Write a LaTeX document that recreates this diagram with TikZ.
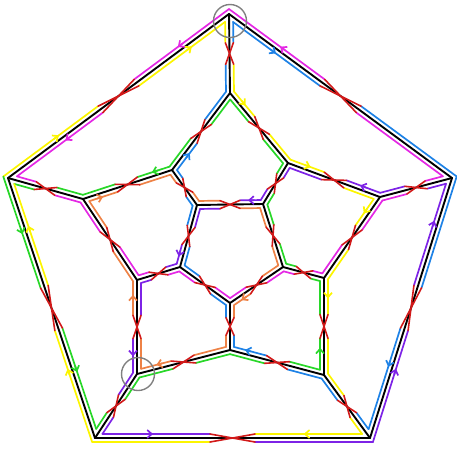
\documentclass[tikz,border=0pt]{standalone}
\usetikzlibrary{arrows.meta}
\definecolor{cM}{RGB}{228,40,228}
\definecolor{cY}{RGB}{252,245,0}
\definecolor{cB}{RGB}{30,130,230}
\definecolor{cG}{RGB}{40,215,40}
\definecolor{cP}{RGB}{125,35,230}
\definecolor{cO}{RGB}{238,130,70}
\definecolor{cR}{RGB}{210,25,25}
\tikzset{
 blk/.style={black,line width=1.9pt,line cap=round},
 qstrand/.style={line width=1.7pt,line cap=round,line join=round},
 xr/.style={cR,line width=1.6pt,line cap=round},
 mag/.style={qstrand,cM}, yel/.style={qstrand,cY}, blu/.style={qstrand,cB},
 grn/.style={qstrand,cG}, pur/.style={qstrand,cP}, org/.style={qstrand,cO},
 qtip/.style={-{Straight Barb[length=4.5pt,width=8pt]}},
 grayring/.style={circle,draw=gray,line width=1.4pt,inner sep=0pt,minimum size=33pt}
}
\newcommand\QD{4}
\newcommand\Qgxy[3]{\pgfpointanchor{#1}{center}\pgfgetlastxy{#2}{#3}}
\newcommand\Qsetup[3]{%
 \Qgxy{#1}\Qvx\Qvy\Qgxy{#2}\Qax\Qay\Qgxy{#3}\Qbx\Qby
 \pgfmathsetmacro\Qla{veclen((\Qax)-(\Qvx),(\Qay)-(\Qvy))}%
 \pgfmathsetmacro\Qlb{veclen((\Qbx)-(\Qvx),(\Qby)-(\Qvy))}%
 \pgfmathsetmacro\Quax{((\Qax)-(\Qvx))/\Qla}%
 \pgfmathsetmacro\Quay{((\Qay)-(\Qvy))/\Qla}%
 \pgfmathsetmacro\Qubx{((\Qbx)-(\Qvx))/\Qlb}%
 \pgfmathsetmacro\Quby{((\Qby)-(\Qvy))/\Qlb}%
 \pgfmathsetmacro\Qcs{(\Quax)*(\Qubx)+(\Quay)*(\Quby)}%
 \pgfmathsetmacro\Qsn{abs((\Quax)*(\Quby)-(\Quay)*(\Qubx))}%
}
% corner: v a b sign styleA styleB
\newcommand\Qcrn[6]{%
 \Qsetup{#1}{#2}{#3}%
 \pgfmathsetmacro\Qf{(#4)*\QD/\Qsn}%
 \pgfmathsetmacro\Qcx{(\Qvx)+(\Qf)*((\Quax)+(\Qubx))}%
 \pgfmathsetmacro\Qcy{(\Qvy)+(\Qf)*((\Quay)+(\Quby))}%
 \pgfmathsetmacro\Qnax{(#4)*((\Qubx)-(\Qcs)*(\Quax))/\Qsn}%
 \pgfmathsetmacro\Qnay{(#4)*((\Quby)-(\Qcs)*(\Quay))/\Qsn}%
 \pgfmathsetmacro\Qnbx{(#4)*((\Quax)-(\Qcs)*(\Qubx))/\Qsn}%
 \pgfmathsetmacro\Qnby{(#4)*((\Quay)-(\Qcs)*(\Quby))/\Qsn}%
 \pgfmathsetmacro\Qsa{\Qla/2-(0.06*\Qla+6)}%
 \pgfmathsetmacro\Qsb{\Qlb/2-(0.06*\Qlb+6)}%
 \pgfmathsetmacro\Qpax{(\Qvx)+(\Qsa)*(\Quax)+\QD*(\Qnax)}%
 \pgfmathsetmacro\Qpay{(\Qvy)+(\Qsa)*(\Quay)+\QD*(\Qnay)}%
 \pgfmathsetmacro\Qpbx{(\Qvx)+(\Qsb)*(\Qubx)+\QD*(\Qnbx)}%
 \pgfmathsetmacro\Qpby{(\Qvy)+(\Qsb)*(\Quby)+\QD*(\Qnby)}%
 \draw[#5] (\Qpax pt,\Qpay pt) -- (\Qcx pt,\Qcy pt);
 \draw[#6] (\Qcx pt,\Qcy pt) -- (\Qpbx pt,\Qpby pt);
}
% crossing at the middle of edge u w
\newcommand\Qx[2]{%
 \Qgxy{#1}\Qvx\Qvy\Qgxy{#2}\Qax\Qay
 \pgfmathsetmacro\Qla{veclen((\Qax)-(\Qvx),(\Qay)-(\Qvy))}%
 \pgfmathsetmacro\Qux{((\Qax)-(\Qvx))/\Qla}%
 \pgfmathsetmacro\Quy{((\Qay)-(\Qvy))/\Qla}%
 \pgfmathsetmacro\Qh{0.06*\Qla+6}%
 \pgfmathsetmacro\Qs{\Qla/2-\Qh}%
 \pgfmathsetmacro\Qt{\Qla/2+\Qh}%
 \pgfmathsetmacro\QPx{(\Qvx)+(\Qs)*(\Qux)-\QD*(\Quy)}%
 \pgfmathsetmacro\QPy{(\Qvy)+(\Qs)*(\Quy)+\QD*(\Qux)}%
 \pgfmathsetmacro\QQx{(\Qvx)+(\Qt)*(\Qux)+\QD*(\Quy)}%
 \pgfmathsetmacro\QQy{(\Qvy)+(\Qt)*(\Quy)-\QD*(\Qux)}%
 \pgfmathsetmacro\QRx{(\Qvx)+(\Qs)*(\Qux)+\QD*(\Quy)}%
 \pgfmathsetmacro\QRy{(\Qvy)+(\Qs)*(\Quy)-\QD*(\Qux)}%
 \pgfmathsetmacro\QSx{(\Qvx)+(\Qt)*(\Qux)-\QD*(\Quy)}%
 \pgfmathsetmacro\QSy{(\Qvy)+(\Qt)*(\Quy)+\QD*(\Qux)}%
 \draw[xr] (\QPx pt,\QPy pt) -- (\QQx pt,\QQy pt) (\QRx pt,\QRy pt) -- (\QSx pt,\QSy pt);
}
% arrow: v a b sign style frac dir
\newcommand\Qar[7]{%
 \Qsetup{#1}{#2}{#3}%
 \pgfmathsetmacro\Qnax{(#4)*((\Qubx)-(\Qcs)*(\Quax))/\Qsn}%
 \pgfmathsetmacro\Qnay{(#4)*((\Quby)-(\Qcs)*(\Quay))/\Qsn}%
 \pgfmathsetmacro\Qt{(#6)*\Qla}%
 \pgfmathsetmacro\Qmx{(\Qvx)+(\Qt)*(\Quax)+\QD*(\Qnax)}%
 \pgfmathsetmacro\Qmy{(\Qvy)+(\Qt)*(\Quay)+\QD*(\Qnay)}%
 \pgfmathsetmacro\Qex{(\Qmx)+(#7)*3*(\Quax)}%
 \pgfmathsetmacro\Qey{(\Qmy)+(#7)*3*(\Quay)}%
 \pgfmathsetmacro\Qfx{(\Qmx)-(#7)*3*(\Quax)}%
 \pgfmathsetmacro\Qfy{(\Qmy)-(#7)*3*(\Quay)}%
 \draw[#5,qtip] (\Qfx pt,\Qfy pt) -- (\Qex pt,\Qey pt);
}
\begin{document}
\begin{tikzpicture}[x=1pt,y=-1pt]
\useasboundingbox (0,0) rectangle (457,448);
\coordinate (T) at (229,14);
\coordinate (R) at (452,178);
\coordinate (BR) at (370,438);
\coordinate (BL) at (95,438);
\coordinate (L) at (8,178);
\coordinate (A0) at (230,93);
\coordinate (A1) at (380,197);
\coordinate (A2) at (324,375);
\coordinate (A3) at (137,374);
\coordinate (A4) at (83,199);
\coordinate (B01) at (288,163);
\coordinate (B12) at (324,278);
\coordinate (B23) at (230,350);
\coordinate (B34) at (137,280);
\coordinate (B40) at (172,170);
\coordinate (I0) at (197,205);
\coordinate (I1) at (263,204);
\coordinate (I2) at (283,267);
\coordinate (I3) at (230,303);
\coordinate (I4) at (180,267);
% black edges
\foreach \a/\b in {T/R,R/BR,BR/BL,BL/L,L/T,T/A0,R/A1,BR/A2,BL/A3,L/A4,
 A0/B01,B01/A1,A1/B12,B12/A2,A2/B23,B23/A3,A3/B34,B34/A4,A4/B40,B40/A0,
 B01/I1,B12/I2,B23/I3,B34/I4,B40/I0,I0/I1,I1/I2,I2/I3,I3/I4,I4/I0}
 {\draw[blk] (\a) -- (\b);}
% coloured strands, one piece per face corner
\Qcrn{T}{L}{R}{-1}{mag}{mag}
\Qcrn{T}{L}{A0}{1}{yel}{yel}
\Qcrn{T}{R}{A0}{1}{blu}{blu}
\Qcrn{R}{T}{BR}{-1}{blu}{blu}
\Qcrn{R}{T}{A1}{1}{mag}{mag}
\Qcrn{R}{BR}{A1}{1}{pur}{pur}
\Qcrn{BR}{R}{BL}{-1}{pur}{pur}
\Qcrn{BR}{R}{A2}{1}{blu}{blu}
\Qcrn{BR}{BL}{A2}{1}{yel}{yel}
\Qcrn{BL}{BR}{L}{-1}{yel}{yel}
\Qcrn{BL}{BR}{A3}{1}{pur}{pur}
\Qcrn{BL}{L}{A3}{1}{grn}{grn}
\Qcrn{L}{T}{BL}{-1}{yel}{grn}
\Qcrn{L}{T}{A4}{1}{mag}{mag}
\Qcrn{L}{A4}{BL}{1}{grn}{yel}
\Qcrn{A0}{T}{B40}{1}{blu}{blu}
\Qcrn{A0}{T}{B01}{1}{yel}{yel}
\Qcrn{A0}{B01}{B40}{1}{grn}{grn}
\Qcrn{A1}{R}{B01}{1}{pur}{pur}
\Qcrn{A1}{R}{B12}{1}{mag}{mag}
\Qcrn{A1}{B01}{B12}{1}{yel}{yel}
\Qcrn{A2}{BR}{B12}{1}{yel}{yel}
\Qcrn{A2}{BR}{B23}{1}{blu}{blu}
\Qcrn{A2}{B12}{B23}{1}{grn}{grn}
\Qcrn{A3}{BL}{B23}{1}{grn}{grn}
\Qcrn{A3}{BL}{B34}{1}{pur}{pur}
\Qcrn{A3}{B23}{B34}{1}{org}{org}
\Qcrn{A4}{L}{B34}{1}{mag}{mag}
\Qcrn{A4}{L}{B40}{1}{grn}{grn}
\Qcrn{A4}{B34}{B40}{1}{org}{org}
\Qcrn{B01}{A0}{A1}{1}{yel}{yel}
\Qcrn{B01}{A0}{I1}{1}{grn}{grn}
\Qcrn{B01}{A1}{I1}{1}{pur}{pur}
\Qcrn{B12}{A1}{A2}{1}{yel}{yel}
\Qcrn{B12}{A1}{I2}{1}{mag}{mag}
\Qcrn{B12}{A2}{I2}{1}{grn}{grn}
\Qcrn{B23}{A2}{A3}{1}{grn}{grn}
\Qcrn{B23}{A2}{I3}{1}{blu}{blu}
\Qcrn{B23}{A3}{I3}{1}{org}{org}
\Qcrn{B34}{A3}{A4}{1}{org}{org}
\Qcrn{B34}{A3}{I4}{1}{pur}{pur}
\Qcrn{B34}{A4}{I4}{1}{mag}{mag}
\Qcrn{B40}{A4}{A0}{1}{grn}{grn}
\Qcrn{B40}{A4}{I0}{1}{org}{org}
\Qcrn{B40}{A0}{I0}{1}{blu}{blu}
\Qcrn{I0}{B40}{I1}{1}{org}{org}
\Qcrn{I0}{B40}{I4}{1}{blu}{blu}
\Qcrn{I0}{I1}{I4}{1}{pur}{pur}
\Qcrn{I1}{B01}{I0}{1}{pur}{pur}
\Qcrn{I1}{B01}{I2}{1}{grn}{grn}
\Qcrn{I1}{I0}{I2}{1}{org}{org}
\Qcrn{I2}{B12}{I1}{1}{grn}{grn}
\Qcrn{I2}{B12}{I3}{1}{mag}{mag}
\Qcrn{I2}{I1}{I3}{1}{org}{org}
\Qcrn{I3}{B23}{I2}{1}{org}{org}
\Qcrn{I3}{B23}{I4}{1}{blu}{blu}
\Qcrn{I3}{I2}{I4}{1}{mag}{mag}
\Qcrn{I4}{B34}{I3}{1}{mag}{mag}
\Qcrn{I4}{B34}{I0}{1}{pur}{pur}
\Qcrn{I4}{I3}{I0}{1}{blu}{blu}
% arrows
\Qar{T}{L}{R}{-1}{mag}{0.21}{1}
\Qar{T}{L}{A0}{1}{yel}{0.19}{-1}
\Qar{L}{T}{BL}{-1}{yel}{0.23}{1}
\Qar{L}{T}{A4}{1}{mag}{0.26}{-1}
\Qar{T}{R}{L}{-1}{mag}{0.23}{-1}
\Qar{T}{R}{A0}{1}{blu}{0.21}{1}
\Qar{R}{BR}{A1}{1}{pur}{0.18}{-1}
\Qar{BR}{R}{A2}{1}{blu}{0.28}{-1}
\Qar{BR}{R}{BL}{-1}{pur}{0.26}{1}
\Qar{BR}{BL}{A2}{1}{yel}{0.23}{1}
\Qar{BL}{BR}{A3}{1}{pur}{0.2}{1}
\Qar{L}{BL}{T}{-1}{grn}{0.2}{1}
\Qar{L}{BL}{A4}{1}{yel}{0.2}{-1}
\Qar{BL}{L}{BR}{-1}{yel}{0.26}{1}
\Qar{BL}{L}{A3}{1}{grn}{0.26}{-1}
\Qar{A0}{B01}{T}{1}{yel}{0.18}{1}
\Qar{B01}{A1}{A0}{1}{yel}{0.2}{1}
\Qar{A1}{B01}{R}{1}{pur}{0.2}{1}
\Qar{A1}{B12}{B01}{1}{yel}{0.2}{1}
\Qar{B12}{A2}{A1}{1}{yel}{0.18}{1}
\Qar{A2}{B12}{B23}{1}{grn}{0.25}{1}
\Qar{B23}{A2}{I3}{1}{blu}{0.18}{-1}
\Qar{I3}{I2}{B23}{1}{org}{0.22}{-1}
\Qar{I1}{I0}{B01}{1}{pur}{0.18}{1}
\Qar{I4}{I0}{B34}{1}{pur}{0.2}{-1}
\Qar{B40}{A0}{I0}{1}{blu}{0.22}{1}
\Qar{B40}{A4}{A0}{1}{grn}{0.18}{1}
\Qar{A4}{B40}{B34}{1}{org}{0.18}{1}
\Qar{B34}{A3}{A4}{1}{org}{0.19}{-1}
\Qar{A3}{B34}{BL}{1}{pur}{0.22}{-1}
\Qar{A3}{B23}{B34}{1}{org}{0.25}{-1}
% red crossings at the middle of every edge
\foreach \a/\b in {T/R,R/BR,BR/BL,BL/L,L/T,T/A0,R/A1,BR/A2,BL/A3,L/A4,
 A0/B01,B01/A1,A1/B12,B12/A2,A2/B23,B23/A3,A3/B34,B34/A4,A4/B40,B40/A0,
 B01/I1,B12/I2,B23/I3,B34/I4,B40/I0,I0/I1,I1/I2,I2/I3,I3/I4,I4/I0}
 {\Qx{\a}{\b}}
% grey marker circles
\node[grayring] (ctop) at (230,21) {};
\node[grayring] (cbl) at (138,374) {};
\end{tikzpicture}
\end{document}
